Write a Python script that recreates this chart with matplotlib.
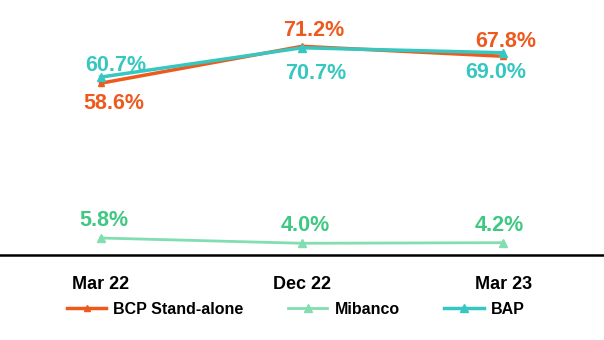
import matplotlib.pyplot as plt

periods = ["Mar 22", "Dec 22", "Mar 23"]
bcp = [58.6, 71.2, 67.8]
mibanco = [5.8, 4.0, 4.2]
bap = [60.7, 70.7, 69.0]

# label offsets in pixels (dx, dy), dy positive = up
bcp_off = [(13, -20), (12, 16), (2, 15)]
bap_off = [(15, 12), (14, -26), (-8, -20)]
mib_off = [(3, 17), (3, 18), (-4, 17)]

c_bcp = "#EE5A1E"
c_bap = "#36C7C1"
c_mib_line = "#82DDB0"
c_mib_text = "#3FC882"

plt.rcParams["font.family"] = ["Liberation Sans", "DejaVu Sans"]

fig = plt.figure(figsize=(6.04, 3.40), dpi=100)
ax = fig.add_axes([0, 85 / 340, 1, 255 / 340])

x = list(range(len(periods)))
ax.plot(x, bcp, color=c_bcp, lw=2.5, marker="^", ms=5, label="BCP Stand-alone", zorder=3)
ax.plot(x, mibanco, color=c_mib_line, lw=2, marker="^", ms=6, label="Mibanco", zorder=3)
ax.plot(x, bap, color=c_bap, lw=2.5, marker="^", ms=6, label="BAP", zorder=4)

for vals, offs, col in [(bcp, bcp_off, c_bcp), (bap, bap_off, c_bap), (mibanco, mib_off, c_mib_text)]:
    for i, v in enumerate(vals):
        ax.annotate(f"{v:.1f}%", (i, v), xytext=offs[i], textcoords="offset pixels",
                    ha="center", va="center", color=col, fontsize=15.5, fontweight="bold")

ax.set_xlim(-0.5, 2.5)
ax.set_ylim(0, 87)
ax.set_xticks(x)
ax.set_xticklabels(periods, fontsize=13, fontweight="bold")
ax.tick_params(axis="x", length=0, pad=15)
ax.set_yticks([])
for s in ["top", "left", "right"]:
    ax.spines[s].set_visible(False)
ax.spines["bottom"].set_linewidth(1.8)
ax.spines["bottom"].set_color("black")

leg = fig.legend(loc="center left", bbox_to_anchor=(67 / 604, 1 - 309 / 340), ncol=3,
                 frameon=False, borderpad=0, borderaxespad=0, handlelength=2.45,
                 handletextpad=0.45, columnspacing=2.8,
                 prop={"size": 11.5, "weight": "bold"})

fig.savefig("out.png", dpi=100)
